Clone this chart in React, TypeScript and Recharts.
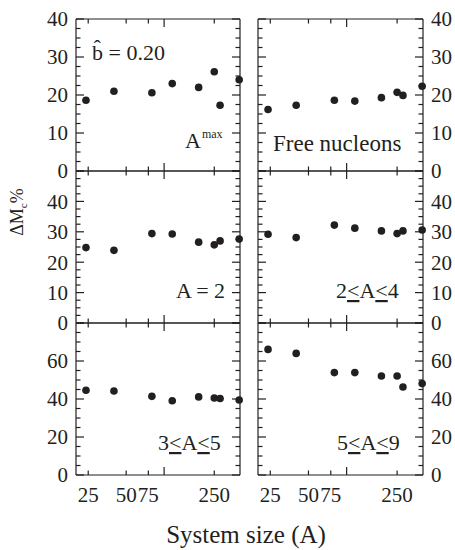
import { ScatterChart, Scatter, XAxis, YAxis } from "recharts";

// System size A (log axis), shared by all six panels
const SIZES = [24, 40, 80, 116, 188, 250, 278, 394];
const X_TICKS = [25, 50, 75, 100, 250];
const X_LABELS = [25, 50, 75, 250];
const X_MAJOR = [100];

// Delta M_c % per panel
const AMAX = [18.6, 21.0, 20.6, 23.0, 22.0, 26.1, 17.3, 24.0];
const FREE = [16.2, 17.3, 18.6, 18.4, 19.3, 20.7, 19.9, 22.3];
const A2 = [24.8, 23.9, 29.4, 29.3, 26.6, 25.7, 27.0, 27.6];
const A2TO4 = [29.2, 28.1, 32.2, 31.2, 30.3, 29.4, 30.3, 30.6];
const A3TO5 = [44.6, 44.2, 41.4, 39.1, 41.1, 40.5, 40.3, 39.5];
const A5TO9 = [66.1, 64.0, 53.9, 53.9, 52.1, 52.1, 46.3, 48.1];

const INK = "#231f20";
const FONT = "'Liberation Serif', 'Times New Roman', serif";
const PLOT_TOPS = [19, 171, 323];
const PLOT_H = 152;
const PAD = 14;

const steps = (max: number, step: number) => {
  const out: number[] = [];
  for (let v = 0; v <= max + 1e-9; v += step) out.push(v);
  return out;
};

// inward tick marks drawn from the plot edge; dx/dy = direction into the plot
const inward = (dx: number, dy: number, isMajor: (v: number) => boolean) =>
  (p: any) => {
    const len = isMajor(p.payload.value) ? 8 : 4.5;
    return (
      <line x1={p.x} y1={p.y} x2={p.x + dx * len} y2={p.y + dy * len}
        stroke={INK} strokeWidth={1.2} />
    );
  };

// serif tick labels
const label = (anchor: "start" | "middle" | "end", dy: string) => (p: any) => (
  <text x={p.x} y={p.y} dy={dy} textAnchor={anchor} fontSize={21}
    fontFamily={FONT} fill={INK}>
    {p.payload.value}
  </text>
);

const dot = (p: any) => <circle cx={p.cx} cy={p.cy} r={3.8} fill={INK} />;
const noDot = () => <g />;

type PanelProps = {
  values: number[];
  yMax: number;
  major: number;
  minor: number;
  col: 0 | 1;
  row: 0 | 1 | 2;
};

function Panel({ values, yMax, major, minor, col, row }: PanelProps) {
  const data = SIZES.map((a, i) => ({ a, v: values[i] }));
  const left = col === 0;
  const bottom = row === 2;
  const width = left ? 250 : 205;
  const height = PAD + PLOT_H + (bottom ? 30 + PAD : PAD);
  const majorTicks = steps(yMax, major);
  const minorTicks = steps(yMax, minor);
  // top label of lower rows is covered by the row above
  const labelTicks = row === 0 ? majorTicks : majorTicks.filter((t) => t < yMax);
  const line = { stroke: INK, strokeWidth: 1.2 };
  const yMaj = (v: number) => Math.abs(v / major - Math.round(v / major)) < 1e-6;
  const xMaj = (v: number) => X_MAJOR.includes(v);
  const xDom: [number, number] = [20, 400];

  return (
    <div style={{ position: "absolute", left: left ? 0 : 250, top: PLOT_TOPS[row] - PAD }}>
      <ScatterChart
        width={width}
        height={height}
        margin={{ top: PAD, bottom: PAD, left: left ? 16 : 8, right: left ? 10 : 0 }}
      >
        <XAxis xAxisId="b" dataKey="a" type="number" scale="log" domain={xDom}
          orientation="bottom" mirror ticks={X_TICKS} interval={0}
          tickSize={0} tickMargin={0} axisLine={line} tickLine={false}
          tick={inward(0, -1, xMaj)} />
        <XAxis xAxisId="t" dataKey="a" type="number" scale="log" domain={xDom}
          orientation="top" mirror ticks={X_TICKS} interval={0}
          tickSize={0} tickMargin={0} axisLine={line} tickLine={false}
          tick={inward(0, 1, xMaj)} />
        {bottom && (
          <XAxis xAxisId="lab" dataKey="a" type="number" scale="log" domain={xDom}
            orientation="bottom" height={30} ticks={X_LABELS} interval={0}
            tickSize={0} tickMargin={12} axisLine={false} tickLine={false}
            tick={label("middle", "0.71em")} />
        )}

        <YAxis yAxisId="l" dataKey="v" type="number" domain={[0, yMax]}
          orientation="left" mirror ticks={minorTicks} interval={0}
          tickSize={0} tickMargin={0} axisLine={line} tickLine={false}
          tick={inward(1, 0, yMaj)} />
        <YAxis yAxisId="r" dataKey="v" type="number" domain={[0, yMax]}
          orientation="right" mirror ticks={minorTicks} interval={0}
          tickSize={0} tickMargin={0} axisLine={line} tickLine={false}
          tick={inward(-1, 0, yMaj)} />
        <YAxis yAxisId="lab" dataKey="v" type="number" domain={[0, yMax]}
          orientation={left ? "left" : "right"} width={left ? 60 : 32}
          ticks={labelTicks} interval={0} tickSize={0} tickMargin={8}
          axisLine={false} tickLine={false}
          tick={label(left ? "end" : "start", "0.35em")} />

        <Scatter data={data} xAxisId="b" yAxisId="l" isAnimationActive={false} shape={dot} />
        {/* invisible copies so the frame / label axes get their ticks */}
        <Scatter data={data} xAxisId="t" yAxisId="r" isAnimationActive={false} shape={noDot} />
        <Scatter data={data} xAxisId={bottom ? "lab" : "b"} yAxisId="lab" isAnimationActive={false} shape={noDot} />
      </ScatterChart>
    </div>
  );
}

export default function App() {
  const txt = { fontFamily: FONT, fill: INK };
  return (
    <div style={{ position: "absolute", left: 0, top: 0, width: 455, height: 550, background: "#fff", fontFamily: FONT }}>
      <Panel values={AMAX} yMax={40} major={10} minor={2.5} col={0} row={0} />
      <Panel values={FREE} yMax={40} major={10} minor={2.5} col={1} row={0} />
      <Panel values={A2} yMax={50} major={10} minor={2.5} col={0} row={1} />
      <Panel values={A2TO4} yMax={50} major={10} minor={2.5} col={1} row={1} />
      <Panel values={A3TO5} yMax={80} major={20} minor={5} col={0} row={2} />
      <Panel values={A5TO9} yMax={80} major={20} minor={5} col={1} row={2} />

      <svg width={455} height={550} style={{ position: "absolute", left: 0, top: 0, pointerEvents: "none" }}>
        <text x={92} y={60} fontSize={22} {...txt}>b̂ = 0.20</text>

        <text x={185} y={148} fontSize={22} {...txt}>
          A<tspan dx={1} dy={-10} fontSize={12}>max</tspan>
        </text>
        <text x={273} y={151} fontSize={23} {...txt}>Free nucleons</text>

        <text x={176} y={298} fontSize={22} {...txt}>A = 2</text>
        <text x={336} y={298} fontSize={22} {...txt}>
          2<tspan textDecoration="underline">&lt;</tspan>A<tspan textDecoration="underline">&lt;</tspan>4
        </text>
        <text x={158} y={450} fontSize={22} {...txt}>
          3<tspan textDecoration="underline">&lt;</tspan>A<tspan textDecoration="underline">&lt;</tspan>5
        </text>
        <text x={337} y={450} fontSize={22} {...txt}>
          5<tspan textDecoration="underline">&lt;</tspan>A<tspan textDecoration="underline">&lt;</tspan>9
        </text>

        <text transform="translate(23,212) rotate(-90)" textAnchor="middle" fontSize={18} {...txt}>
          ΔM<tspan fontSize={11} dy={4}>c</tspan><tspan dy={-4}>%</tspan>
        </text>

        <text x={246} y={543} textAnchor="middle" fontSize={25} {...txt}>System size (A)</text>
      </svg>
    </div>
  );
}
